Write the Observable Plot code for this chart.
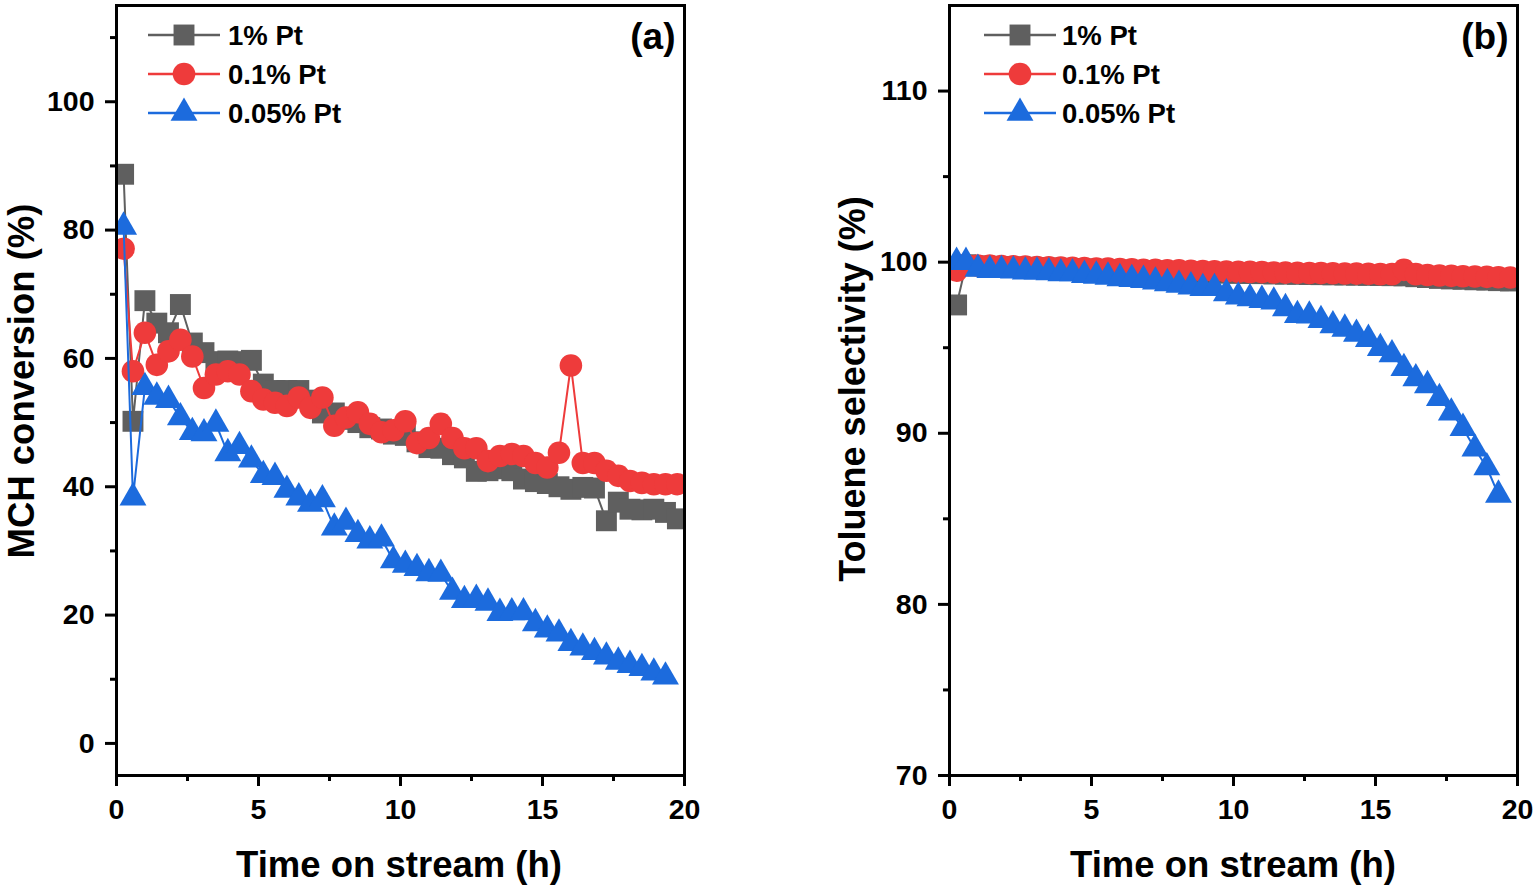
<!DOCTYPE html>
<html><head><meta charset="utf-8">
<script src="https://cdn.jsdelivr.net/npm/d3@7"></script>
<script src="https://cdn.jsdelivr.net/npm/@observablehq/plot@0.6"></script>
<style>
html,body{margin:0;padding:0;background:#fff;overflow:hidden;}
#wrap{position:relative;width:1536px;height:887px;}
#wrap > svg{position:absolute;top:0;}
</style></head><body><div id="wrap"></div>
<script>
// ---- data ----
const seriesNames = ["1% Pt", "0.1% Pt", "0.05% Pt"];
const seriesColors = ["#5F5F5F", "#EE3B3B", "#1C6BDD"];
const seriesSymbols = ["square", "circle", "triangle"];

const times = [0.25,0.58,1.00,1.42,1.83,2.25,2.67,3.08,3.50,3.92,4.33,4.75,5.17,5.58,6.00,6.42,6.83,7.25,7.67,8.08,8.50,8.92,9.33,9.75,10.17,10.58,11.00,11.42,11.83,12.25,12.67,13.08,13.50,13.92,14.33,14.75,15.17,15.58,16.00,16.42,16.83,17.25,17.67,18.08,18.50,18.92,19.33,19.75];

// (a) MCH conversion (%)
const convPt1 = [88.7,50.2,69.0,65.5,64.0,68.4,62.4,60.9,59.5,59.6,59.5,59.7,56.0,55.0,55.0,55.0,53.5,51.5,51.5,50.5,50.0,49.2,49.0,48.2,48.0,47.0,46.1,46.0,45.0,44.5,42.4,42.5,42.8,42.5,41.2,40.8,40.5,40.0,39.6,39.9,39.8,34.7,37.6,36.5,36.4,36.5,36.0,35.0];
const convPt01 = [77.1,58.0,64.0,59.0,61.1,62.9,60.3,55.4,57.5,58.0,57.5,54.9,53.6,53.1,52.6,53.9,52.3,53.9,49.5,50.8,51.6,49.8,48.5,48.8,50.2,46.8,47.6,49.8,47.6,46.0,46.0,44.0,44.8,45.1,44.8,43.7,43.0,45.3,58.9,43.7,43.7,42.5,41.7,40.9,40.6,40.4,40.4,40.4];
const convPt005 = [80.5,38.3,55.5,54.0,53.5,50.8,48.5,48.3,49.8,45.2,46.3,44.2,41.8,41.5,39.5,38.3,37.3,38.0,33.6,34.5,32.6,31.6,31.9,28.5,27.8,27.3,26.5,26.4,23.6,22.3,22.5,21.9,20.3,20.4,20.4,18.7,17.7,17.1,15.6,14.9,14.2,13.5,12.7,12.2,11.7,11.0,10.4];

// (b) Toluene selectivity (%)
const selPt1 = [97.5,99.85,99.78,99.76,99.74,99.72,99.70,99.68,99.66,99.64,99.62,99.60,99.58,99.56,99.54,99.52,99.50,99.48,99.46,99.44,99.42,99.40,99.38,99.36,99.35,99.34,99.33,99.31,99.30,99.29,99.28,99.27,99.26,99.25,99.24,99.23,99.22,99.21,99.20,99.15,99.10,99.05,99.02,99.00,98.97,98.95,98.92,98.90];
const selPt01 = [99.5,99.85,99.8,99.8,99.78,99.76,99.74,99.72,99.7,99.69,99.67,99.65,99.63,99.62,99.6,99.58,99.56,99.55,99.53,99.52,99.5,99.48,99.47,99.45,99.44,99.43,99.42,99.4,99.39,99.38,99.37,99.36,99.35,99.34,99.33,99.32,99.3,99.3,99.55,99.3,99.25,99.22,99.2,99.18,99.16,99.14,99.12,99.1];
const selPt005 = [100.0,100.0,99.6,99.53,99.53,99.5,99.44,99.44,99.4,99.34,99.34,99.24,99.2,99.14,99.05,99.0,98.95,98.85,98.76,98.66,98.57,98.47,98.47,98.17,97.98,97.88,97.78,97.69,97.3,96.9,96.87,96.6,96.3,96.1,95.8,95.5,94.97,94.6,93.8,93.2,92.8,92.05,91.2,90.3,89.1,88.0,86.4];

const xMajor = [0,5,10,15,20];
const xMinor = [2.5,7.5,12.5,17.5];
const yMajorA = [0,20,40,60,80,100];
const yMinorA = [10,30,50,70,90,110];
const yMajorB = [70,80,90,100,110];
const yMinorB = [75,85,95,105];

// ---- drawing ----
const FONT = "'Liberation Sans', Arial, Helvetica, sans-serif";
const radii = [11.8, 11.3, 10];

function rows(vals) { return vals.map((v, i) => ({t: times[i], v})); }

function panel(seriesVals, yDomain, yMajor, yMinor, label, width, marginRight) {
  const marks = [];
  seriesVals.forEach((vals, k) => {
    const d = rows(vals);
    marks.push(Plot.line(d, {x: "t", y: "v", stroke: seriesColors[k], strokeWidth: 2, clip: true}));
    marks.push(Plot.dot(d, {x: "t", y: "v", symbol: seriesSymbols[k], r: radii[k], fill: seriesColors[k], stroke: "none", clip: true}));
  });
  marks.push(Plot.frame({stroke: "#000", strokeWidth: 3}));
  marks.push(Plot.axisX({ticks: xMajor, tickSize: 11, tickPadding: 12, strokeWidth: 3, label: null, fontSize: 28.5, fontWeight: "bold", tickFormat: d => String(d)}));
  marks.push(Plot.axisX({ticks: xMinor, tickSize: 6, strokeWidth: 3, label: null, tickFormat: () => ""}));
  marks.push(Plot.axisY({ticks: yMajor, tickSize: 11, tickPadding: 11, strokeWidth: 3, label: null, fontSize: 28.5, fontWeight: "bold", tickFormat: d => String(d)}));
  marks.push(Plot.axisY({ticks: yMinor, tickSize: 6, strokeWidth: 3, label: null, tickFormat: () => ""}));
  marks.push(Plot.text([label], {frameAnchor: "top-right", dx: -9, dy: 43, text: d => d, fontSize: 37, fontWeight: "bold", textAnchor: "end", lineAnchor: "bottom", fill: "#000"}));
  return Plot.plot({
    width, height: 887,
    marginLeft: 116, marginRight, marginTop: 5, marginBottom: 112,
    x: {domain: [0, 20], label: null},
    y: {domain: yDomain, label: null},
    style: {fontFamily: FONT, fontWeight: "bold", color: "#000", background: "transparent", overflow: "visible"},
    marks
  });
}

const wrap = document.getElementById("wrap");
const pa = panel([convPt1, convPt01, convPt005], [-5, 115], yMajorA, yMinorA, "(a)", 700, 16);
pa.style.left = "0px";
wrap.appendChild(pa);
const pb = panel([selPt1, selPt01, selPt005], [70, 115], yMajorB, yMinorB, "(b)", 703, 19);
pb.style.left = "833px";
wrap.appendChild(pb);

// overlay: titles and legends
const ov = d3.select(wrap).append("svg")
  .attr("width", 1536).attr("height", 887)
  .style("position", "absolute").style("left", "0px").style("top", "0px")
  .style("pointer-events", "none")
  .attr("font-family", FONT).attr("font-weight", "bold").attr("fill", "#000");

[[399, "Time on stream (h)"], [1233, "Time on stream (h)"]].forEach(([x, s]) => {
  ov.append("text").attr("x", x).attr("y", 877).attr("text-anchor", "middle").attr("font-size", 36.5).text(s);
});
ov.append("text").attr("transform", "translate(34,381) rotate(-90)").attr("text-anchor", "middle").attr("font-size", 36.5).text("MCH conversion (%)");
ov.append("text").attr("transform", "translate(865,389) rotate(-90)").attr("text-anchor", "middle").attr("font-size", 36).text("Toluene selectivity (%)");

const legendRows = [35, 74, 113];
[[148, 220, 184, 228], [984, 1056, 1020, 1062]].forEach(([x0, x1, xm, xt]) => {
  seriesNames.forEach((name, k) => {
    const y = legendRows[k];
    const g = ov.append("g");
    g.append("line").attr("x1", x0).attr("x2", x1).attr("y1", y).attr("y2", y)
      .attr("stroke", seriesColors[k]).attr("stroke-width", 2.5);
    const sym = {square: d3.symbolSquare, circle: d3.symbolCircle, triangle: d3.symbolTriangle}[seriesSymbols[k]];
    g.append("path").attr("d", d3.symbol(sym, Math.PI * radii[k] * radii[k])())
      .attr("transform", `translate(${xm},${y})`).attr("fill", seriesColors[k]);
    g.append("text").attr("x", xt).attr("y", y).attr("dy", "0.36em").attr("font-size", 27.5).text(name);
  });
});
</script></body></html>
